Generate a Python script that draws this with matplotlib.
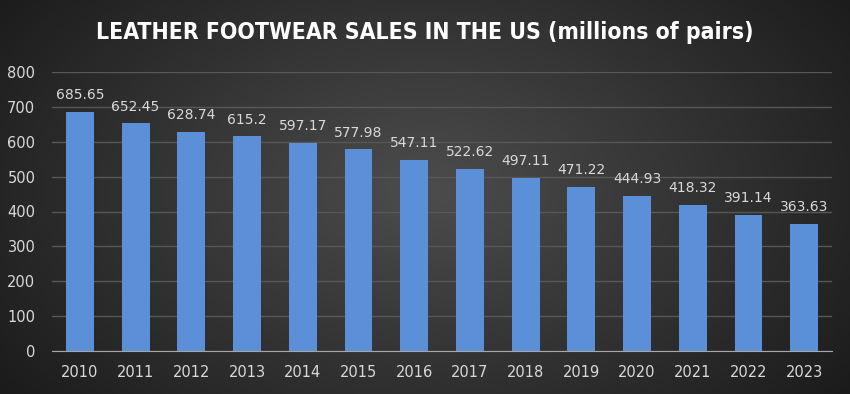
import numpy as np
import matplotlib
matplotlib.use('Agg')
import matplotlib.pyplot as plt

# 数据
years = ['2010', '2011', '2012', '2013', '2014', '2015', '2016',
         '2017', '2018', '2019', '2020', '2021', '2022', '2023']
sales = [685.65, 652.45, 628.74, 615.2, 597.17, 577.98, 547.11,
         522.62, 497.11, 471.22, 444.93, 418.32, 391.14, 363.63]
labels = ['685.65', '652.45', '628.74', '615.2', '597.17', '577.98', '547.11',
          '522.62', '497.11', '471.22', '444.93', '418.32', '391.14', '363.63']
yticks = [0, 100, 200, 300, 400, 500, 600, 700, 800]

fig = plt.figure(figsize=(8.5, 3.94), dpi=100)

# 径向渐变背景
bg = fig.add_axes([0, 0, 1, 1], zorder=-1)
yy, xx = np.mgrid[0:394, 0:850]
r = np.sqrt(((xx - 425) / 520.0) ** 2 + ((yy - 190) / 330.0) ** 2)
shade = np.clip(0.30 - 0.19 * r, 0.10, 0.30)
img = np.dstack([shade, shade, shade])
bg.imshow(img, aspect='auto', extent=[0, 1, 0, 1])
bg.axis('off')

ax = fig.add_axes([52 / 850, 1 - 351 / 394, 780 / 850, 279 / 394])
ax.set_facecolor('none')

x = np.arange(len(years))
bars = ax.bar(x, sales, width=0.5, color='#5b8fd8', zorder=3)
for xi, v, s in zip(x, sales, labels):
    ax.annotate(s, (xi, v), xytext=(0, 7), textcoords='offset points',
                ha='center', va='bottom', color='#d9d9d9', fontsize=10)

ax.set_xlim(-0.5, len(years) - 0.5)
ax.set_ylim(0, 800)
ax.set_xticks(x)
ax.set_xticklabels(years)
ax.set_yticks(yticks)
ax.tick_params(colors='#d9d9d9', labelsize=10.5, length=0)
ax.tick_params(axis='x', pad=10)
ax.tick_params(axis='y', pad=12)
ax.grid(axis='y', color='#575757', linewidth=1, zorder=0)
for side in ['top', 'right', 'left']:
    ax.spines[side].set_visible(False)
ax.spines['bottom'].set_color('#a6a6a6')
ax.spines['bottom'].set_zorder(4)

fig.text(0.5, 1 - 33 / 394, 'LEATHER FOOTWEAR SALES IN THE US (millions of pairs)',
         ha='center', va='center', color='white', fontsize=16.5, fontweight='bold',
         fontstretch='condensed', family=['DejaVu Sans'])

fig.savefig('out.png', dpi=100)
